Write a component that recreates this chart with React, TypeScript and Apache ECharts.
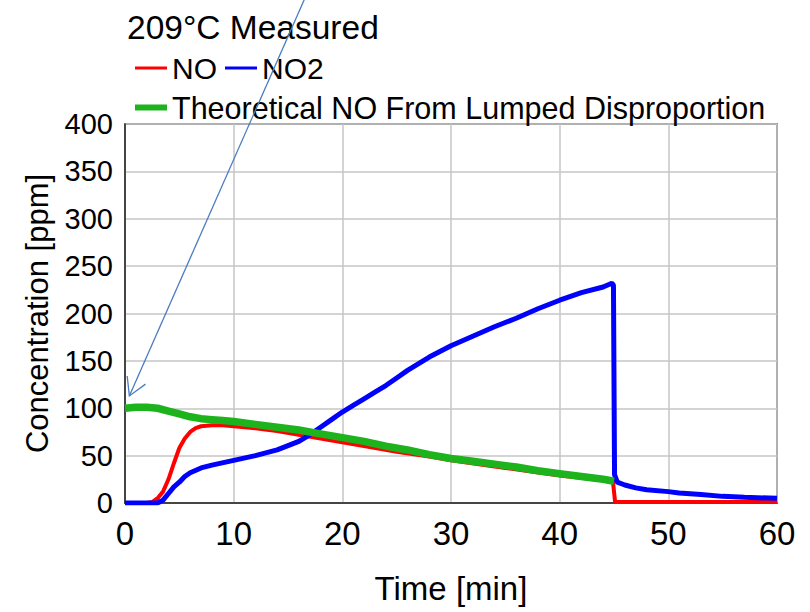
import React, { useEffect, useRef } from "react";
import * as echarts from "echarts";

const titleText = "209°C Measured";
const legendNames = ["NO", "NO2", "Theoretical NO From Lumped Disproportion"];

const noTime = [0, 1, 2, 2.5, 3, 3.5, 4, 4.5, 5, 5.5, 6, 6.5, 7, 8, 9, 10, 12, 14, 16, 18, 20, 22, 25, 28, 30, 35, 40, 44, 44.9, 45.1, 46, 50, 55, 60];
const noValues = [0, 0, 0, 1, 5, 12, 25, 42, 58, 68, 75, 79, 81, 82, 82, 81, 79, 76, 72, 68, 64, 60, 54, 49, 45, 37, 29, 24, 23, 1, 1, 1, 1, 1];

const no2Time = [0, 1, 2, 3, 3.5, 4, 4.5, 5, 5.5, 6, 7, 8, 10, 12, 14, 16, 17, 18, 19, 20, 21, 22, 23, 24, 25, 26, 28, 30, 32, 34, 36, 38, 40, 42, 44, 44.8, 44.95, 45.05, 45.3, 46, 47, 48, 50, 51, 53, 55, 57, 60];
const no2Values = [0, 0, 0, 0, 3, 10, 17, 22, 28, 32, 37, 40, 45, 50, 56, 65, 72, 80, 88, 96, 103, 110, 117, 124, 132, 140, 154, 166, 176, 186, 195, 205, 214, 222, 228, 232, 230, 30, 22, 19, 16, 14, 12, 10.5, 9, 7, 6, 5];

const theoTime = [0, 1, 2, 3, 4, 5, 6, 7, 8, 9, 10, 12, 14, 16, 18, 20, 22, 24, 26, 28, 30, 32, 34, 36, 38, 40, 42, 44, 45];
const theoValues = [100, 101, 101, 100, 97, 94, 91, 89, 88, 87, 86, 83, 80, 77, 73, 69, 65, 60, 56, 51, 47, 44, 41, 38, 34, 31, 28, 25, 23];

const xTicks = [0, 10, 20, 30, 40, 50, 60];
const yTicks = [0, 50, 100, 150, 200, 250, 300, 350, 400];

const arrowTipData = [0.4, 113];

const pairs = (xs: number[], ys: number[]) => xs.map((x, i) => [x, ys[i]]);

const FONT = "Liberation Sans, Arial, sans-serif";

export default function App() {
  const ref = useRef<HTMLDivElement>(null);
  useEffect(() => {
    if (!ref.current) return;
    const chart = echarts.init(ref.current, undefined, { renderer: "svg" });
    chart.setOption({
      animation: false,
      backgroundColor: "#ffffff",
      textStyle: { fontFamily: FONT },
      title: {
        text: titleText,
        left: 122,
        top: 5,
        textStyle: { fontSize: 33.5, fontWeight: "normal", color: "#000", fontFamily: FONT },
      },
      legend: [
        {
          data: [legendNames[0], legendNames[1]],
          left: 130,
          top: 48,
          icon: "rect",
          itemWidth: 32,
          itemHeight: 3,
          itemGap: 8,
          itemStyle: { borderWidth: 0 },
          textStyle: { fontSize: 30, color: "#000", fontFamily: FONT },
        },
        {
          data: [legendNames[2]],
          left: 130,
          top: 87,
          icon: "rect",
          itemWidth: 32,
          itemHeight: 6,
          itemStyle: { borderWidth: 0 },
          textStyle: { fontSize: 30.5, color: "#000", fontFamily: FONT },
        },
      ],
      grid: {
        left: 125,
        right: 33,
        top: 124,
        bottom: 109,
        show: true,
        borderColor: "#444",
        borderWidth: 1.5,
      },
      xAxis: {
        type: "value",
        min: xTicks[0],
        max: xTicks[xTicks.length - 1],
        interval: 10,
        name: "Time [min]",
        nameLocation: "middle",
        nameGap: 69,
        nameTextStyle: { fontSize: 33, color: "#000", fontFamily: FONT },
        axisLine: { show: true, lineStyle: { color: "#222", width: 1.5 } },
        axisTick: { show: false },
        axisLabel: { fontSize: 33, color: "#000", margin: 14, fontFamily: FONT },
        splitLine: { show: true, lineStyle: { color: "#c6c6c6", width: 1.5 } },
      },
      yAxis: {
        type: "value",
        min: yTicks[0],
        max: yTicks[yTicks.length - 1],
        interval: 50,
        name: "Concentration [ppm]",
        nameLocation: "middle",
        nameGap: 72,
        nameTextStyle: { fontSize: 31, color: "#000", fontFamily: FONT },
        axisLine: { show: true, lineStyle: { color: "#222", width: 1.5 } },
        axisTick: { show: false },
        axisLabel: { fontSize: 29, color: "#000", margin: 12, fontFamily: FONT },
        splitLine: { show: true, lineStyle: { color: "#c6c6c6", width: 1.5 } },
      },
      series: [
        {
          name: legendNames[0],
          type: "line",
          data: pairs(noTime, noValues),
          showSymbol: false,
          color: "#ff0000",
          lineStyle: { color: "#ff0000", width: 4 },
          z: 2,
        },
        {
          name: legendNames[1],
          type: "line",
          data: pairs(no2Time, no2Values),
          showSymbol: false,
          color: "#0000ff",
          lineStyle: { color: "#0000ff", width: 5 },
          z: 3,
        },
        {
          name: legendNames[2],
          type: "line",
          data: pairs(theoTime, theoValues),
          showSymbol: false,
          color: "#1db31d",
          lineStyle: { color: "#1db31d", width: 7.5 },
          z: 4,
        },
      ],
    });

    const tip = chart.convertToPixel({ gridIndex: 0 }, arrowTipData) as number[];
    const top = [305, -2];
    const dx = top[0] - tip[0];
    const dy = top[1] - tip[1];
    const len = Math.sqrt(dx * dx + dy * dy);
    const ux = dx / len;
    const uy = dy / len;
    const L = 20;
    const a = Math.PI / 6;
    const w1 = [tip[0] + L * (Math.cos(a) * ux - Math.sin(a) * uy), tip[1] + L * (Math.sin(a) * ux + Math.cos(a) * uy)];
    const w2 = [tip[0] + L * (Math.cos(-a) * ux - Math.sin(-a) * uy), tip[1] + L * (Math.sin(-a) * ux + Math.cos(-a) * uy)];
    chart.setOption({
      graphic: [
        {
          type: "line",
          shape: { x1: top[0], y1: top[1], x2: tip[0], y2: tip[1] },
          style: { stroke: "#4a7cc0", lineWidth: 1.3 },
          z: 100,
        },
        {
          type: "polyline",
          shape: { points: [w1, tip, w2] },
          style: { stroke: "#4a7cc0", lineWidth: 1.3, fill: null },
          z: 100,
        },
      ],
    });

    return () => chart.dispose();
  }, []);
  return <div ref={ref} style={{ position: "fixed", left: 0, top: 0, width: 810, height: 612 }} />;
}
